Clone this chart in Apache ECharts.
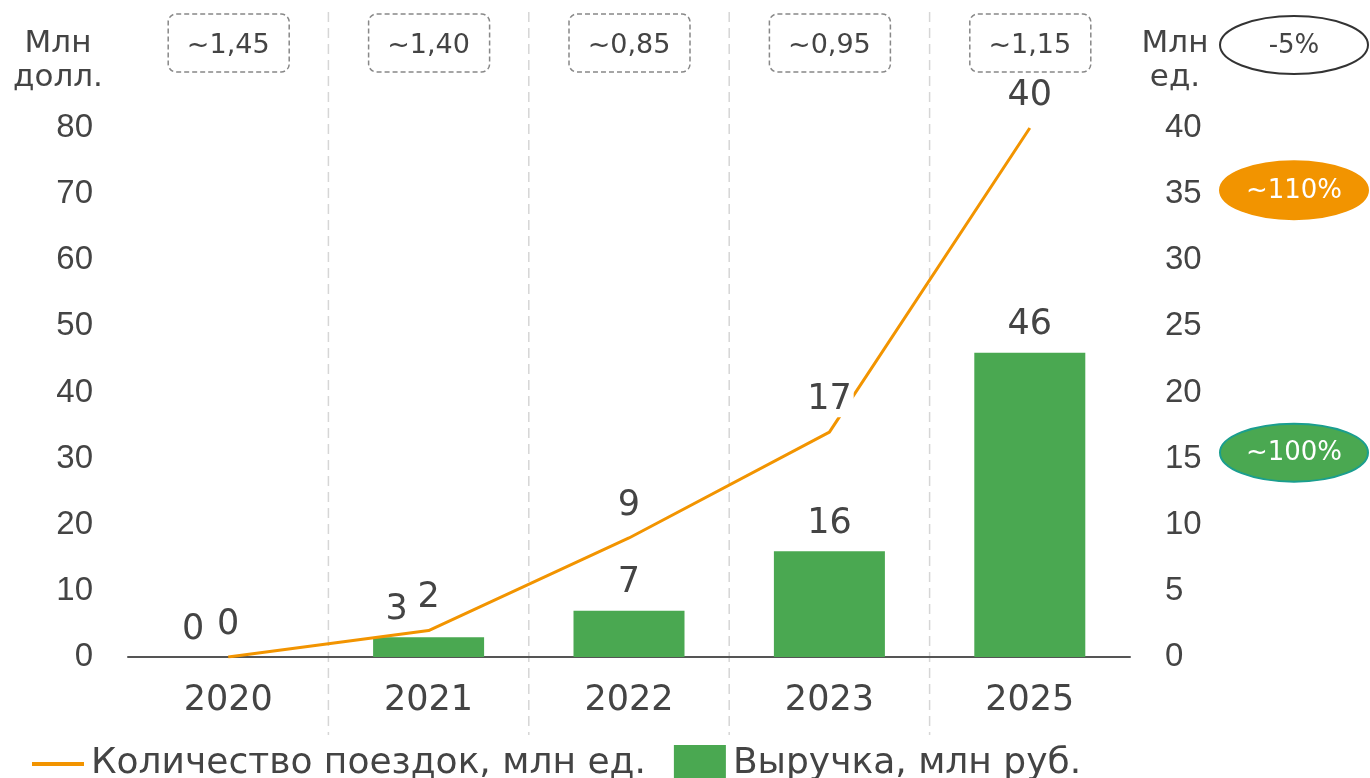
<!DOCTYPE html>
<html><head><meta charset="utf-8">
<script src="https://cdn.jsdelivr.net/npm/echarts@6/dist/echarts.min.js"></script>
<style>html,body{margin:0;padding:0;background:#fff}#c{width:1370px;height:778px}</style>
</head><body><div id="c"></div>
<script>
const categories = ['2020', '2021', '2022', '2023', '2025'];
const revenue = [0, 3, 7, 16, 46];          // Выручка, млн руб. (left axis)
const trips = [0, 2, 9, 17, 40];            // Количество поездок, млн ед. (right axis)
const priceNotes = ['~1,45', '~1,40', '~0,85', '~0,95', '~1,15'];
const growthBadges = ['-5%', '~110%', '~100%'];
const leftAxisTitle = 'Млн\nдолл.';
const rightAxisTitle = 'Млн\nед.';
const seriesNames = ['Количество поездок, млн ед.', 'Выручка, млн руб.'];

const FONT = 'DejaVu Sans';
const TXT = '#444';
const ORANGE = '#f29400';
const GREEN = '#4aa851';

const chart = echarts.init(document.getElementById('c'));

const barData = revenue.map((v, i) => {
  const d = { value: v };
  if (i === 0) d.label = { offset: [-35, 0] };
  if (i === 1) d.label = { offset: [-32, 0] };
  return d;
});

chart.setOption({
  animation: false,
  grid: { left: 128, right: 240, top: 128, bottom: 121 },
  legend: {
    left: 27, top: 740, itemWidth: 52, itemHeight: 38, itemGap: 28,
    data: [
      { name: seriesNames[0], icon: 'path://M0,0 L50,0 L50,4 L0,4 Z' },
      { name: seriesNames[1], icon: 'rect' }
    ],
    textStyle: { fontFamily: FONT, fontSize: 36, color: TXT, padding: [0, 0, 0, 2] }
  },
  xAxis: {
    type: 'category', data: categories,
    axisLine: { lineStyle: { color: '#555', width: 2 } },
    axisTick: { show: false },
    axisLabel: { fontFamily: FONT, fontSize: 35, color: TXT, margin: 26 }
  },
  yAxis: [
    { type: 'value', min: 0, max: 80, interval: 10,
      axisLine: { show: false }, axisTick: { show: false }, splitLine: { show: false },
      axisLabel: { fontFamily: 'Liberation Sans', fontSize: 33, color: TXT, margin: 35 } },
    { type: 'value', min: 0, max: 40, interval: 5, position: 'right',
      axisLine: { show: false }, axisTick: { show: false }, splitLine: { show: false },
      axisLabel: { fontFamily: 'Liberation Sans', fontSize: 33, color: TXT, margin: 35 } }
  ],
  series: [
    { name: seriesNames[1], type: 'bar', data: barData, barWidth: 111, yAxisIndex: 0,
      itemStyle: { color: GREEN }, z: 2,
      label: { show: true, position: 'top', distance: 10, fontFamily: FONT, fontSize: 35, color: TXT } },
    { name: seriesNames[0], type: 'line', data: trips, yAxisIndex: 1,
      symbol: 'circle', symbolSize: 0.1, showSymbol: true, z: 3,
      lineStyle: { color: ORANGE, width: 3 }, itemStyle: { color: ORANGE },
      label: { show: true, position: 'top', distance: 15, fontFamily: FONT, fontSize: 35, color: TXT,
        backgroundColor: '#fff', padding: [0, 2] } }
  ]
});

function layoutGraphics() {
  const xs = categories.map(c => chart.convertToPixel({ xAxisIndex: 0 }, c));
  const els = [];
  for (let i = 0; i < xs.length - 1; i++) {
    const x = (xs[i] + xs[i + 1]) / 2;
    els.push({ type: 'line', z: 0, shape: { x1: x, y1: 12, x2: x, y2: 735 },
      style: { stroke: '#d6d6d6', lineWidth: 1.5, lineDash: [10, 6] } });
  }
  priceNotes.forEach((t, i) => {
    els.push({ type: 'rect', shape: { x: xs[i] - 60, y: 14, width: 121, height: 58, r: 8 },
      style: { fill: '#fff', stroke: '#888', lineWidth: 1.5, lineDash: [5, 3] }, z: 5 });
    els.push({ type: 'text', x: xs[i], y: 46, z: 6,
      style: { text: t, fontFamily: FONT, fontSize: 27, fill: TXT, align: 'center', verticalAlign: 'middle' } });
  });
  const yR = v => chart.convertToPixel({ yAxisIndex: 1 }, v);
  const badgeX = 1294;
  const badges = [
    { t: growthBadges[0], cy: 45, fill: '#fff', stroke: '#333', tc: TXT },
    { t: growthBadges[1], cy: yR(35) - 4, fill: ORANGE, stroke: ORANGE, tc: '#fff' },
    { t: growthBadges[2], cy: yR(15) - 6, fill: GREEN, stroke: '#1a9e8f', tc: '#fff' }
  ];
  badges.forEach(b => {
    els.push({ type: 'ellipse', shape: { cx: badgeX, cy: b.cy, rx: 74, ry: 29 },
      style: { fill: b.fill, stroke: b.stroke, lineWidth: 2 }, z: 5 });
    els.push({ type: 'text', x: badgeX, y: b.cy + 1, z: 6,
      style: { text: b.t, fontFamily: FONT, fontSize: 26, fill: b.tc, align: 'center', verticalAlign: 'middle' } });
  });
  els.push({ type: 'text', x: 58, y: 61, z: 6,
    style: { text: leftAxisTitle, fontFamily: FONT, fontSize: 31, lineHeight: 34, fill: TXT, align: 'center', verticalAlign: 'middle' } });
  els.push({ type: 'text', x: 1175, y: 61, z: 6,
    style: { text: rightAxisTitle, fontFamily: FONT, fontSize: 31, lineHeight: 34, fill: TXT, align: 'center', verticalAlign: 'middle' } });
  chart.setOption({ graphic: els });
}
layoutGraphics();
</script></body></html>
